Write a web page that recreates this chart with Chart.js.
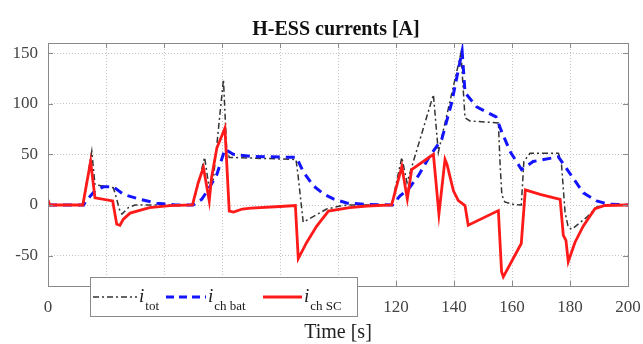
<!DOCTYPE html>
<html><head><meta charset="utf-8">
<script src="https://cdn.jsdelivr.net/npm/chart.js@4.4.0/dist/chart.umd.min.js"></script>
<style>html,body{margin:0;padding:0;background:#fff;}</style>
</head><body>
<canvas id="c" width="643" height="344"></canvas>
<script>
const titleText = 'H-ESS currents [A]';
const xTitleText = 'Time [s]';
const xTicks = [0, 20, 40, 60, 80, 100, 120, 140, 160, 180, 200];
const yTicks = [-50, 0, 50, 100, 150];
const legendNames = ['tot', 'ch bat', 'ch SC'];

// i_tot (black dash-dot)
const tTot = [0, 12, 15.1, 16.2, 22.5, 23.1, 24.8, 25.5, 27.7, 30, 50, 54, 55.4, 57, 60.5, 61.6, 62.5, 85.5, 86.2, 88, 96.1, 100.7, 104, 118.5, 122, 123.8, 132.9, 134.6, 142.4, 143.8, 145.5, 155.3, 155.9, 156.5, 157.5, 160.4, 163.2, 164.1, 166.2, 176, 177, 178.3, 179.4, 180.6, 185.8, 189.2, 192, 200];
const iTot = [0, 0, 53, 20, 17, 12, -6, -9, -2.6, 0, 0, 47, 20, 25, 124, 55, 47, 45, 30, -17, -4, -1, 0, 0, 47, 22, 109, 52, 150, 86, 83, 81, 40, 10, 3, 0.7, 0, 43, 51, 51, 43, -7.5, -22, -24, -12, -2, 0, 0];

// i_ch bat (blue dashed)
const tBat = [0, 12.3, 12.8, 16.2, 19.1, 22.5, 26, 31.7, 37.5, 44, 50, 53, 55.3, 58.2, 61, 63.9, 69.7, 85.7, 88, 91.5, 95, 98.4, 103, 110, 118.8, 121.4, 124.3, 127.7, 131.7, 135.8, 139.2, 142.8, 143.8, 147.8, 154.5, 156.5, 159.5, 163.3, 167.3, 176, 179.4, 184.6, 189.2, 193, 200];
const iBat = [0, 0, 3, 14, 18, 18, 10.5, 5.6, 1.7, 0, 0, 5.6, 15.5, 30, 55, 50, 48, 47, 33, 19, 11, 6, 2, 0.5, 0, 9, 15.7, 29, 48.6, 65, 101, 152, 111, 97, 87, 72, 52, 35, 43, 47.6, 33.5, 12, 4, 1, 0];

// i_ch SC (red solid)
const tSC = [0, 0.6, 12, 14.7, 16.2, 22.3, 23.7, 24.8, 26, 28.3, 35, 42, 49.8, 51.8, 53.6, 54.7, 55.6, 56.4, 58.2, 61, 62.5, 64, 67, 70, 80, 85.3, 86.3, 89.2, 92.6, 96.7, 104, 110, 118.5, 122, 123.9, 125.4, 132.9, 134.8, 136.9, 137.6, 139.8, 141.5, 143.8, 144.9, 155.3, 156.4, 157, 163.2, 164.6, 169.7, 176.6, 177.7, 178.6, 179.4, 181.7, 184.6, 188.6, 192, 200];
const iSC = [5, 0, 0, 43, 7, 4, -19, -20, -14, -8, -2.6, -0.7, 0, 22, 37, 19, 4, 27, 56, 76, -6, -7, -4, -3, -1.5, -0.5, -53, -37, -21, -6, -2.6, -1, 0, 38, 6, 35, 50, -9, 45, 40, 14, 4.3, -0.6, -20, -5.5, -66, -71, -38, 15, 10.5, 5.6, -30, -35, -56, -37, -20.7, -3.6, -0.5, 0];

const pts = (t, v) => t.map((x, i) => ({x: x, y: v[i]}));
const SERIF = '"Liberation Serif", "Times New Roman", serif';

const decor = {
  id: 'decor',
  afterDraw(chart) {
    const ctx = chart.ctx, a = chart.chartArea;
    const xs = chart.scales.x, ys = chart.scales.y;
    ctx.save();
    ctx.strokeStyle = '#8a8a8a';
    ctx.lineWidth = 1;
    ctx.setLineDash([]);
    ctx.strokeRect(Math.round(a.left) + 0.5, Math.round(a.top) + 0.5, Math.round(a.right - a.left), Math.round(a.bottom - a.top));
    ctx.beginPath();
    xTicks.forEach(v => {
      const px = Math.round(xs.getPixelForValue(v)) + 0.5;
      ctx.moveTo(px, a.bottom); ctx.lineTo(px, a.bottom - 5);
      ctx.moveTo(px, a.top); ctx.lineTo(px, a.top + 5);
    });
    yTicks.forEach(v => {
      const py = Math.round(ys.getPixelForValue(v)) + 0.5;
      ctx.moveTo(a.left, py); ctx.lineTo(a.left + 5, py);
      ctx.moveTo(a.right, py); ctx.lineTo(a.right - 5, py);
    });
    ctx.stroke();
    ctx.fillStyle = '#111';
    ctx.font = 'bold 20px ' + SERIF;
    ctx.textAlign = 'center';
    ctx.textBaseline = 'middle';
    ctx.fillText(titleText, (a.left + a.right) / 2 - 2, 30);
    const lx = 90, ly = 277, lw = 267, lh = 39;
    ctx.fillStyle = '#fff';
    ctx.fillRect(lx, ly, lw, lh);
    ctx.strokeStyle = '#8a8a8a';
    ctx.strokeRect(lx + 0.5, ly + 0.5, lw, lh);
    const cy = 297;
    const items = [
      {x0: 93, x1: 137, color: '#333', w: 1.5, dash: [6, 3, 2, 3], tx: 139},
      {x0: 166, x1: 206, color: '#1414ff', w: 3, dash: [8, 5], tx: 208},
      {x0: 263, x1: 302, color: '#ff1a1a', w: 3, dash: [], tx: 304}
    ];
    items.forEach((it, k) => {
      ctx.beginPath();
      ctx.strokeStyle = it.color;
      ctx.lineWidth = it.w;
      ctx.setLineDash(it.dash);
      ctx.moveTo(it.x0, cy); ctx.lineTo(it.x1, cy);
      ctx.stroke();
      ctx.setLineDash([]);
      ctx.fillStyle = '#1a1a1a';
      ctx.textAlign = 'left';
      ctx.textBaseline = 'alphabetic';
      ctx.font = 'italic 19px ' + SERIF;
      ctx.fillText('i', it.tx, 302);
      const iw = ctx.measureText('i').width;
      ctx.font = '13px ' + SERIF;
      ctx.fillText(legendNames[k], it.tx + iw + 1, 310);
    });
    ctx.restore();
  }
};

new Chart(document.getElementById('c'), {
  type: 'scatter',
  data: {
    datasets: [
      {label: 'i_ch SC', data: pts(tSC, iSC), showLine: true, borderColor: '#ff1a1a', borderWidth: 2.8, pointRadius: 0, order: 0, tension: 0},
      {label: 'i_ch bat', data: pts(tBat, iBat), showLine: true, borderColor: '#1414ff', borderWidth: 3, borderDash: [9, 6], pointRadius: 0, order: 1, tension: 0},
      {label: 'i_tot', data: pts(tTot, iTot), showLine: true, borderColor: '#333', borderWidth: 1.5, borderDash: [6, 3, 2, 3], pointRadius: 0, order: 2, tension: 0}
    ]
  },
  options: {
    responsive: false,
    animation: false,
    devicePixelRatio: 1,
    layout: {padding: {left: 0, right: 15, top: 43, bottom: 0}},
    plugins: {legend: {display: false}, title: {display: false}, tooltip: {enabled: false}},
    scales: {
      x: {
        type: 'linear', min: 0, max: 200,
        afterBuildTicks: s => { s.ticks = xTicks.map(v => ({value: v})); },
        afterFit: s => { s.height = 58; s.paddingLeft = 0; s.paddingRight = 0; },
        grid: {color: '#c4c4c4', lineWidth: 1, drawTicks: false},
        border: {display: false, dash: [1, 2]},
        ticks: {padding: 11, color: '#444', font: {family: SERIF, size: 17}, maxRotation: 0, callback: v => String(v)},
        title: {display: true, text: xTitleText, color: '#222', font: {family: SERIF, size: 20}, padding: {top: 0, bottom: -1}}
      },
      y: {
        type: 'linear', min: -80, max: 160,
        afterBuildTicks: s => { s.ticks = yTicks.map(v => ({value: v})); },
        afterFit: s => { s.width = 48; s.paddingTop = 0; s.paddingBottom = 0; },
        grid: {color: '#c4c4c4', lineWidth: 1, drawTicks: false},
        border: {display: false, dash: [1, 2]},
        ticks: {padding: 10, color: '#444', font: {family: SERIF, size: 17}, callback: v => String(v)}
      }
    }
  },
  plugins: [decor]
});
</script>
</body></html>
